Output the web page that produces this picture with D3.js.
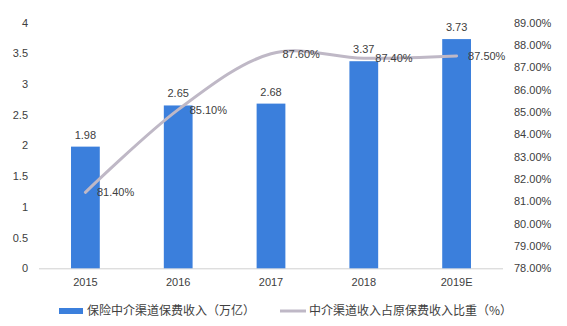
<!DOCTYPE html>
<html>
<head>
<meta charset="utf-8">
<script src="https://cdn.jsdelivr.net/npm/d3@7"></script>
<style>
  html, body { margin: 0; padding: 0; background: #fff; }
  svg { display: block; }
</style>
</head>
<body>
<svg id="chart" width="567" height="326"></svg>
<script>
// Intermediary-channel premium income and its share of original premium income
const years = ["2015", "2016", "2017", "2018", "2019E"];
const premium = [1.98, 2.65, 2.68, 3.37, 3.73];          // 万亿
const share = [81.40, 85.10, 87.60, 87.40, 87.50];        // %
const leftTicks = [0, 0.5, 1, 1.5, 2, 2.5, 3, 3.5, 4];
const rightTicks = [78, 79, 80, 81, 82, 83, 84, 85, 86, 87, 88, 89];
const barLegend = "保险中介渠道保费收入（万亿）";
const lineLegend = "中介渠道收入占原保费收入比重（%）";

const svg = d3.select("#chart");
const textColor = "#404040";
const numFont = "'Liberation Sans', Arial, sans-serif";
const cjkFont = "'Noto Sans CJK SC', sans-serif";

const plot = { left: 39, right: 503, top: 22.5, bottom: 268.3 };

const x = d3.scaleBand().domain(years).range([plot.left, plot.right]).paddingInner(0.69).paddingOuter(0.345);
const yL = d3.scaleLinear().domain([0, 4]).range([plot.bottom, plot.top]);
const yR = d3.scaleLinear().domain([78, 89]).range([plot.bottom, plot.top]);

// left axis
const axL = d3.axisLeft(yL).tickValues(leftTicks).tickSize(0).tickPadding(0).tickFormat(d3.format(""));
const gL = svg.append("g").attr("transform", `translate(28,0)`).call(axL);
gL.select(".domain").remove();
gL.selectAll("text").attr("fill", textColor).style("font-family", numFont).style("font-size", "11px");

// right axis
const axR = d3.axisRight(yR).tickValues(rightTicks).tickSize(0).tickPadding(0).tickFormat(d => d.toFixed(2) + "%");
const gR = svg.append("g").attr("transform", `translate(514,0)`).call(axR);
gR.select(".domain").remove();
gR.selectAll("text").attr("fill", textColor).style("font-family", numFont).style("font-size", "11px");

// baseline
svg.append("line")
  .attr("x1", plot.left).attr("x2", plot.right)
  .attr("y1", plot.bottom + 0.5).attr("y2", plot.bottom + 0.5)
  .attr("stroke", "#d0d0d0").attr("stroke-width", 1);

// category axis
const axB = d3.axisBottom(x).tickSize(0).tickPadding(0);
const gB = svg.append("g").attr("transform", `translate(0,${plot.bottom + 10})`).call(axB);
gB.select(".domain").remove();
gB.selectAll("text").attr("fill", textColor).style("font-family", numFont).style("font-size", "11px");

// bars
const barColor = "#3b7fdc";
svg.append("g").selectAll("rect").data(years).join("rect")
  .attr("x", d => x(d))
  .attr("width", x.bandwidth())
  .attr("y", (d, i) => yL(premium[i]))
  .attr("height", (d, i) => yL(0) - yL(premium[i]))
  .attr("fill", barColor);

// bar value labels
svg.append("g").selectAll("text").data(years).join("text")
  .attr("x", d => x(d) + x.bandwidth() / 2)
  .attr("y", (d, i) => yL(premium[i]) - 8)
  .attr("text-anchor", "middle")
  .attr("fill", textColor)
  .style("font-family", numFont).style("font-size", "11px")
  .text((d, i) => premium[i].toFixed(2));

// share line (smoothed)
const pts = years.map((d, i) => [x(d) + x.bandwidth() / 2, yR(share[i])]);
const line = d3.line().curve(d3.curveCardinal.tension(0));
svg.append("path")
  .attr("d", line(pts))
  .attr("fill", "none")
  .attr("stroke", "#bfb8c6")
  .attr("stroke-width", 3)
  .attr("stroke-linecap", "round");

// share labels
svg.append("g").selectAll("text").data(pts).join("text")
  .attr("x", d => d[0] + 11.5)
  .attr("y", d => d[1])
  .attr("dy", "0.36em")
  .attr("fill", textColor)
  .style("font-family", numFont).style("font-size", "11px")
  .text((d, i) => share[i].toFixed(2) + "%");

// legend
const lg = svg.append("g");
lg.append("rect").attr("x", 59).attr("y", 308).attr("width", 24).attr("height", 6).attr("fill", barColor);
lg.append("text").attr("x", 87).attr("y", 311).attr("dy", "0.36em")
  .attr("fill", textColor).style("font-family", cjkFont).style("font-size", "12px").text(barLegend);
lg.append("line").attr("x1", 280).attr("x2", 306).attr("y1", 311).attr("y2", 311)
  .attr("stroke", "#bfb8c6").attr("stroke-width", 3);
lg.append("text").attr("x", 309).attr("y", 311).attr("dy", "0.36em")
  .attr("fill", textColor).style("font-family", cjkFont).style("font-size", "12px").text(lineLegend);
</script>
</body>
</html>
